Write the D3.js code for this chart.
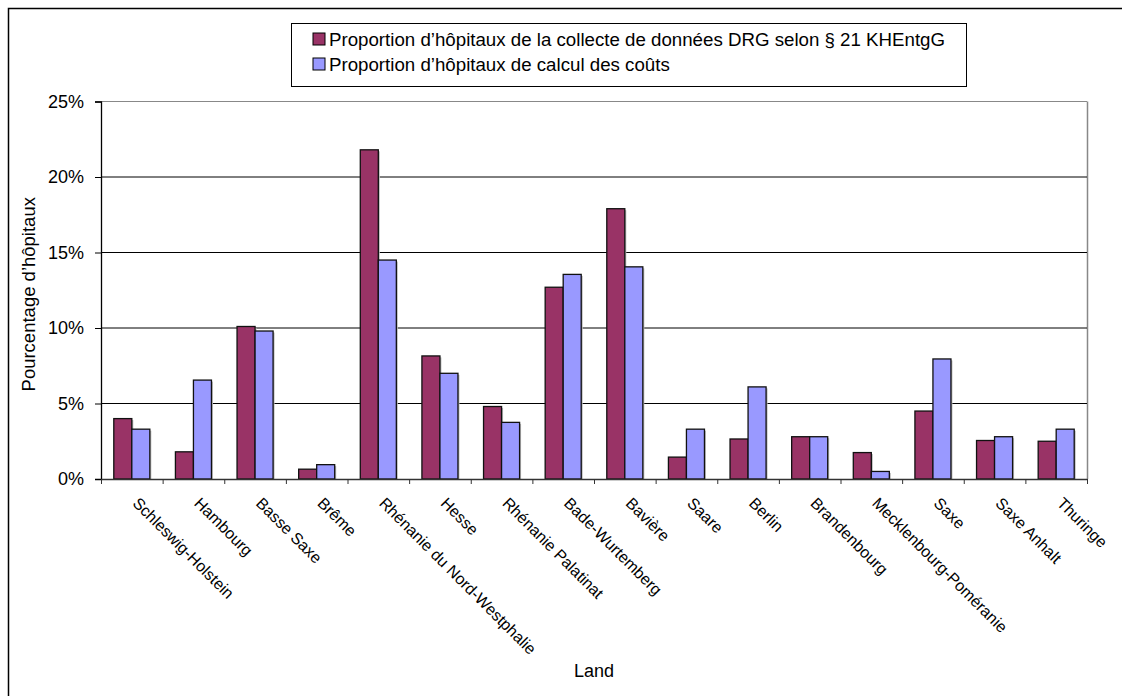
<!DOCTYPE html>
<html>
<head>
<meta charset="utf-8">
<script src="https://cdn.jsdelivr.net/npm/d3@7"></script>
<style>
  html, body { margin: 0; padding: 0; background: #fff; }
  svg { display: block; font-family: "Liberation Sans", Arial, sans-serif; }
</style>
</head>
<body>
<svg id="chart" width="1122" height="696"></svg>
<script>
// Länder, in display order
const lands = [
  "Schleswig-Holstein", "Hambourg", "Basse Saxe", "Brême",
  "Rhénanie du Nord-Westphalie", "Hesse", "Rhénanie Palatinat", "Bade-Wurtemberg",
  "Bavière", "Saare", "Berlin", "Brandenbourg",
  "Mecklenbourg-Poméranie", "Saxe", "Saxe Anhalt", "Thuringe"
];

// share of hospitals (%) in the DRG data collection (§ 21 KHEntgG)
const collecte = [4.0, 1.8, 10.1, 0.65, 21.8, 8.15, 4.8, 12.7, 17.9, 1.45, 2.65, 2.8, 1.75, 4.5, 2.55, 2.5];
// share of hospitals (%) in the cost calculation
const calcul = [3.3, 6.55, 9.8, 0.95, 14.5, 7.0, 3.75, 13.55, 14.05, 3.3, 6.1, 2.8, 0.5, 7.95, 2.8, 3.3];

const seriesNames = [
  "Proportion d’hôpitaux de la collecte de données DRG selon § 21 KHEntgG",
  "Proportion d’hôpitaux de calcul des coûts"
];
const seriesColors = ["#993366", "#9999ff"];
const yTicks = [0, 5, 10, 15, 20, 25];

const svg = d3.select("#chart");
const W = 1122, H = 696;
const plot = { left: 101, right: 1087, top: 101.5, bottom: 479 };

// outer chart frame
svg.append("rect")
  .attr("x", 8.5).attr("y", 8.5)
  .attr("width", W + 40).attr("height", H + 40)
  .attr("fill", "none").attr("stroke", "#000").attr("stroke-width", 1.5);

const x = d3.scaleBand().domain(lands).range([plot.left, plot.right]).paddingInner(0).paddingOuter(0);
const xInner = d3.scaleBand().domain([0, 1]).range([0, x.bandwidth()]).paddingInner(0).paddingOuter(0.71);
const xIdx = d3.scaleLinear().domain([0, lands.length]).range([plot.left, plot.right]);
const y = d3.scaleLinear().domain([0, 25]).range([plot.bottom, plot.top]);

// plot area border (right side in grey)
svg.append("line")
  .attr("x1", plot.right + 0.5).attr("x2", plot.right + 0.5)
  .attr("y1", plot.top).attr("y2", plot.bottom)
  .attr("stroke", "#888").attr("stroke-width", 1.5);

// horizontal gridlines
svg.append("g")
  .selectAll("line")
  .data(yTicks.filter(t => t > 0))
  .join("line")
  .attr("x1", plot.left).attr("x2", plot.right)
  .attr("y1", d => y(d)).attr("y2", d => y(d))
  .attr("stroke", d => d === 25 ? "#888" : "#000")
  .attr("stroke-width", 1);

// bars
const rows = lands.map((l, i) => ({ land: l, values: [collecte[i], calcul[i]] }));
const groups = svg.append("g")
  .selectAll("g")
  .data(rows)
  .join("g")
  .attr("transform", d => `translate(${x(d.land)},0)`);

groups.selectAll("rect.shadow")
  .data(d => d.values.map((v, s) => ({ v, s })))
  .join("rect")
  .attr("class", "shadow")
  .attr("x", d => xInner(d.s) + 1.5)
  .attr("y", d => y(d.v) + 1.5)
  .attr("width", xInner.bandwidth())
  .attr("height", d => y(0) - y(d.v) - 1.5)
  .attr("fill", "#bbb");

groups.selectAll("rect.bar")
  .data(d => d.values.map((v, s) => ({ v, s })))
  .join("rect")
  .attr("class", "bar")
  .attr("x", d => xInner(d.s))
  .attr("y", d => y(d.v))
  .attr("width", xInner.bandwidth())
  .attr("height", d => y(0) - y(d.v))
  .attr("fill", d => seriesColors[d.s])
  .attr("stroke", "#111")
  .attr("stroke-width", 1.3);

// y axis
const yAxis = svg.append("g")
  .attr("transform", `translate(${plot.left},0)`)
  .call(d3.axisLeft(y).tickValues(yTicks).tickFormat(d => d + "%").tickSize(6).tickPadding(11));
yAxis.select(".domain").attr("stroke", "#000").attr("stroke-width", 1.3);
yAxis.selectAll(".tick line").attr("stroke", "#000");
yAxis.selectAll("text").attr("font-size", 18).attr("fill", "#000")
  .attr("font-family", "'Liberation Sans', Arial, sans-serif");

// x axis: ticks between categories
const xAxis = svg.append("g")
  .attr("transform", `translate(0,${plot.bottom})`)
  .call(d3.axisBottom(xIdx).tickValues(d3.range(lands.length + 1)).tickFormat("").tickSize(5).tickSizeOuter(0));
xAxis.select(".domain").attr("stroke", "#333").attr("stroke-width", 1.3);
xAxis.selectAll(".tick line").attr("stroke", "#333");

// category labels, rotated 45°
svg.append("g")
  .selectAll("text")
  .data(lands)
  .join("text")
  .attr("transform", d => `translate(${x(d) + x.bandwidth() / 2 + 8},${plot.bottom + 17}) rotate(45)`)
  .attr("dy", "0.72em")
  .attr("text-anchor", "start")
  .attr("font-size", 16)
  .attr("fill", "#000")
  .text(d => d);

// axis titles
svg.append("text")
  .attr("transform", `translate(35,${(plot.top + plot.bottom) / 2 + 4}) rotate(-90)`)
  .attr("text-anchor", "middle")
  .attr("font-size", 18.5)
  .text("Pourcentage d’hôpitaux");

svg.append("text")
  .attr("x", (plot.left + plot.right) / 2)
  .attr("y", 677)
  .attr("text-anchor", "middle")
  .attr("font-size", 18)
  .text("Land");

// legend
const legend = svg.append("g");
legend.append("rect")
  .attr("x", 291.5).attr("y", 23.5)
  .attr("width", 675).attr("height", 63)
  .attr("fill", "#fff").attr("stroke", "#000").attr("stroke-width", 1);
const items = legend.selectAll("g.item")
  .data(seriesNames)
  .join("g")
  .attr("class", "item")
  .attr("transform", (d, i) => `translate(313,${33 + i * 25})`);
items.append("rect")
  .attr("width", 12).attr("height", 12)
  .attr("fill", (d, i) => seriesColors[i])
  .attr("stroke", "#000").attr("stroke-width", 1);
items.append("text")
  .attr("x", 16).attr("y", 13)
  .attr("font-size", 18.7)
  .text(d => d);
</script>
</body>
</html>
